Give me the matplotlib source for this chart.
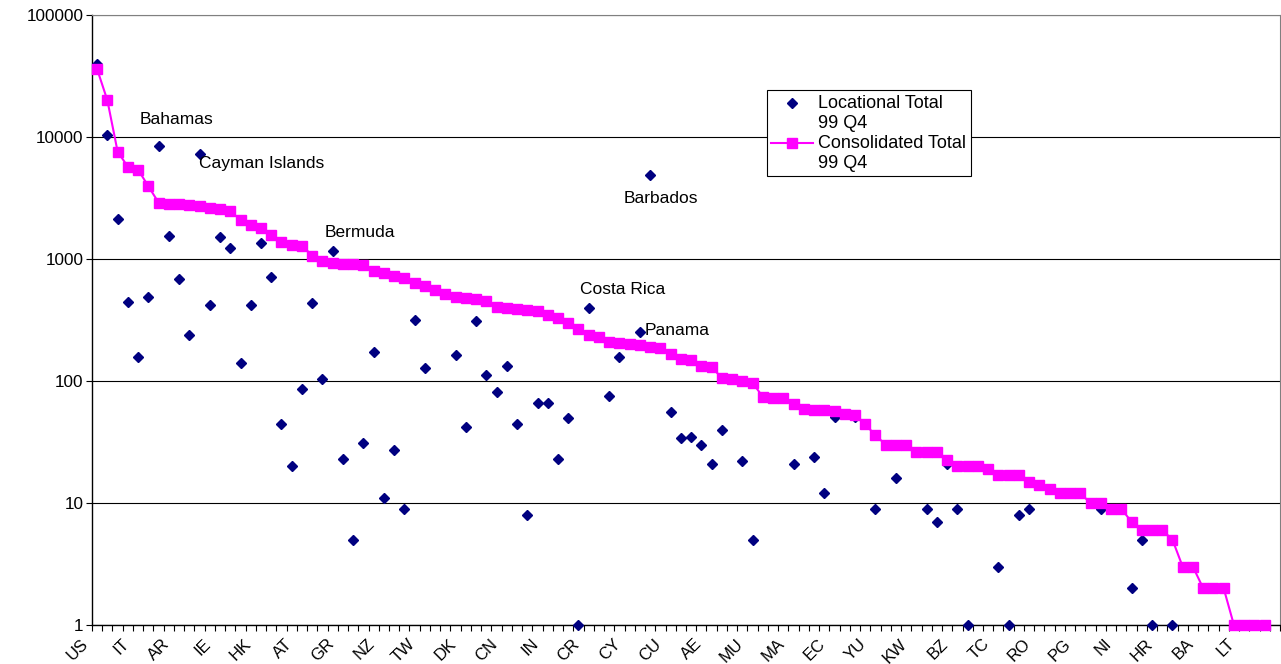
import numpy as np
import matplotlib
matplotlib.use('Agg')
import matplotlib.pyplot as plt
import matplotlib.transforms as mtransforms
from matplotlib.legend_handler import HandlerLine2D

plt.rcParams['font.family'] = ['Liberation Sans', 'DejaVu Sans']

nan = np.nan

# every fourth country code is shown on the axis
tick_labels = ['US', 'IT', 'AR', 'IE', 'HK', 'AT', 'GR', 'NZ', 'TW', 'DK',
               'CN', 'IN', 'CR', 'CY', 'CU', 'AE', 'MU', 'MA', 'EC', 'YU',
               'KW', 'BZ', 'TC', 'RO', 'PG', 'NI', 'HR', 'BA', 'LT']

# locational total, 99 Q4 (nan where no point is plotted)
locational = [40000, 10400, 2140, 444, 158, 491, 8500, 1545, 681, 240,
              7260, 420, 1506, 1224, 140, 420, 1345, 707, 44, 20,
              86, 438, 103, 1164, 23, 5, 31, 172, 11, 27,
              9, 316, 127, nan, nan, 163, 42, 312, 113, 82,
              133, 44, 8, 66, 66, 23, 50, 1, 397, nan,
              75, 156, nan, 250, 4900, nan, 56, 34, 35, 30,
              21, 40, nan, 22, 5, nan, nan, nan, 21, nan,
              24, 12, 51, nan, 51, nan, 9, nan, 16, nan,
              nan, 9, 7, 21, 9, 1, nan, nan, 3, 1,
              8, 9, nan, nan, nan, nan, nan, nan, 9, nan,
              nan, 2, 5, 1, nan, 1, nan, nan, nan, nan,
              nan, nan, nan, nan, nan, nan]

# consolidated total, 99 Q4
consolidated = [36000, 20000, 7600, 5700, 5400, 3950, 2900, 2850, 2830, 2780,
                2700, 2620, 2580, 2460, 2100, 1900, 1800, 1570, 1390, 1300,
                1290, 1065, 960, 920, 910, 905, 890, 800, 763, 726,
                695, 632, 601, 557, 517, 485, 475, 466, 455, 406,
                394, 389, 380, 376, 348, 326, 301, 267, 238, 231,
                210, 205, 201, 196, 191, 185, 166, 152, 150, 133,
                130, 106, 103, 100, 97, 74, 73, 73, 65, 59,
                58, 58, 57, 54, 53, 44, 36, 30, 30, 30,
                26, 26, 26, 22.5, 20, 20, 20, 19, 17, 17,
                17, 15, 14, 13, 12, 12, 12, 10, 10, 9,
                9, 7, 6, 6, 6, 5, 3, 3, 2, 2,
                2, 1, 1, 1, 1, nan]

# named points: category index, text, offset in points
callouts = [(6, 'Bahamas', (-13.7, 18.7)),
            (10, 'Cayman Islands', (-0.7, -7.2)),
            (23, 'Bermuda', (-5.8, 13.0)),
            (48, 'Costa Rica', (-6.5, 13.0)),
            (53, 'Panama', (3.6, 1.4)),
            (54, 'Barbados', (-19.4, -17.3))]


class TopLineHandler(HandlerLine2D):
    # put the legend symbol level with the first line of a two-line label
    def create_artists(self, legend, orig_handle, xdescent, ydescent,
                       width, height, fontsize, trans):
        up = mtransforms.Affine2D().translate(0, 10)
        return super().create_artists(legend, orig_handle, xdescent, ydescent,
                                      width, height, fontsize, trans + up)


x = np.arange(len(consolidated))

fig = plt.figure(figsize=(12.81, 6.64), dpi=100)
ax = fig.add_axes([92 / 1281, 1 - 625 / 664, 1188 / 1281, 610 / 664])

loc_line, = ax.plot(x, locational, 'D', color='#000080', ms=5.6, mec='#000080',
                    clip_on=False, zorder=3, label='Locational Total\n99 Q4')
con_line, = ax.plot(x, consolidated, '-s', color='#ff00ff', lw=1.5, ms=7.8,
                    clip_on=False, zorder=4, label='Consolidated Total\n99 Q4')

for i, name, off in callouts:
    ax.annotate(name, (x[i], locational[i]), xytext=off,
                textcoords='offset points', ha='left', va='center',
                fontsize=12.5)

ax.set_yscale('log')
ax.set_ylim(1, 100000)
ax.set_xlim(-0.5, len(consolidated) - 0.5)

yt = [1, 10, 100, 1000, 10000, 100000]
ax.set_yticks(yt)
ax.set_yticklabels([str(v) for v in yt])
ax.yaxis.set_minor_locator(matplotlib.ticker.NullLocator())
ax.tick_params(axis='y', which='major', length=4, width=0.8, pad=2,
               labelsize=12.3, direction='out')

# tick marks between categories, labels on every fourth category
ax.set_xticks(np.arange(-0.5, len(consolidated), 1))
ax.set_xticklabels([])
ax.tick_params(axis='x', which='major', length=4, width=0.8, direction='out')
ax.set_xticks(np.arange(0, len(consolidated), 4), minor=True)
ax.set_xticklabels(tick_labels, minor=True, rotation=45, ha='right',
                   va='top', rotation_mode='anchor', fontsize=12)
ax.tick_params(axis='x', which='minor', length=0, pad=8)
shift = mtransforms.ScaledTranslation(-17 / 100, 0, fig.dpi_scale_trans)
for lab in ax.get_xticklabels(minor=True):
    lab.set_transform(lab.get_transform() + shift)

ax.yaxis.grid(True, which='major', color='#000000', lw=0.8)
ax.set_axisbelow(True)
for side in ['top', 'right']:
    ax.spines[side].set_color('#808080')
for side in ['left', 'bottom']:
    ax.spines[side].set_color('#000000')
    ax.spines[side].set_linewidth(1.0)

leg = ax.legend(handles=[loc_line, con_line],
                handler_map={loc_line: TopLineHandler(),
                             con_line: TopLineHandler()},
                loc='upper left', bbox_to_anchor=(0.568, 0.877),
                borderaxespad=0, fontsize=13, fancybox=False, framealpha=1,
                edgecolor='#000000', borderpad=0.25, labelspacing=0.15,
                handlelength=2.3, handletextpad=0.3)
leg.get_frame().set_linewidth(0.8)
for t in leg.get_texts():
    t.set_linespacing(1.25)

fig.savefig('out.png', dpi=100)
